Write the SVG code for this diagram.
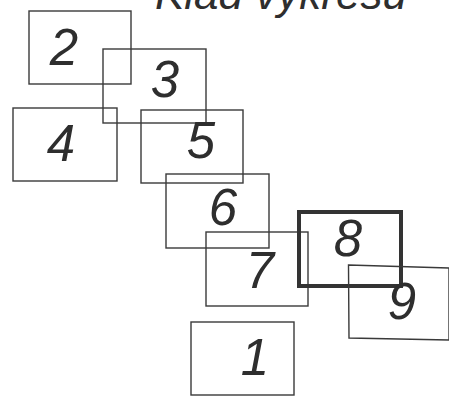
<svg xmlns="http://www.w3.org/2000/svg" width="449" height="396" viewBox="0 0 449 396">
<style>
.b{fill:none;stroke:#3a3a3a;stroke-width:1.4}
.t{font-family:"Liberation Sans",Arial,sans-serif;font-style:italic;fill:#2e2e2e}
.n{font-size:51px;text-anchor:middle}
</style>
<rect width="449" height="396" fill="#fff"/>
<text class="t" x="155" y="9" font-size="44">Klad výkresu</text>
<g id="node2"><rect class="b" x="29" y="11" width="102" height="73"/><text class="t n" x="64" y="65">2</text></g>
<g id="node3"><rect class="b" x="103" y="49" width="103" height="74"/><text class="t n" x="165" y="97">3</text></g>
<g id="node4"><rect class="b" x="13" y="108" width="104" height="73"/><text class="t n" x="61" y="161">4</text></g>
<g id="node5"><rect class="b" x="141" y="110" width="102" height="73"/><text class="t n" x="201" y="158">5</text></g>
<g id="node6"><rect class="b" x="166" y="174" width="103" height="74"/><text class="t n" x="223" y="225">6</text></g>
<g id="node7"><rect class="b" x="206" y="232" width="102" height="74"/><text class="t n" x="260" y="288">7</text></g>
<g id="node8"><rect x="299" y="212" width="102" height="74" fill="none" stroke="#333" stroke-width="4"/><text class="t n" x="348" y="256">8</text></g>
<g id="node9"><polygon class="b" points="348.5,265 449,268 449,340 349,338"/><text class="t n" x="402" y="319">9</text></g>
<g id="node1"><rect class="b" x="191" y="322" width="103" height="73"/><text class="t n" x="255" y="375">1</text></g>
<g id="connectors"/>
</svg>
